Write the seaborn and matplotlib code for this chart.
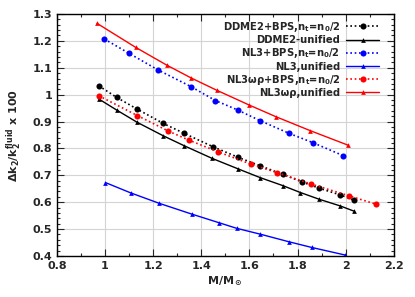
import matplotlib
matplotlib.use("Agg")
import matplotlib.pyplot as plt
import seaborn as sns
import pandas as pd

# DDME2+BPS, n_t = n_0/2
ddme2_bps_m = [0.974, 1.048, 1.134, 1.242, 1.329, 1.447, 1.553, 1.646, 1.738, 1.817, 1.890, 1.978, 2.034]
ddme2_bps_k = [1.033, 0.990, 0.946, 0.893, 0.856, 0.807, 0.767, 0.735, 0.704, 0.676, 0.652, 0.627, 0.608]

# DDME2 unified
ddme2_uni_m = [0.974, 1.048, 1.134, 1.242, 1.329, 1.445, 1.553, 1.646, 1.738, 1.812, 1.890, 1.978, 2.034]
ddme2_uni_k = [0.984, 0.943, 0.897, 0.847, 0.810, 0.763, 0.724, 0.691, 0.662, 0.636, 0.611, 0.586, 0.567]

# NL3+BPS, n_t = n_0/2
nl3_bps_m = [0.997, 1.099, 1.222, 1.357, 1.459, 1.551, 1.645, 1.765, 1.865, 1.990]
nl3_bps_k = [1.207, 1.154, 1.091, 1.030, 0.978, 0.943, 0.903, 0.856, 0.821, 0.773]

# NL3 unified
nl3_uni_m = [1.002, 1.106, 1.225, 1.360, 1.473, 1.547, 1.646, 1.764, 1.858, 1.996]
nl3_uni_k = [0.673, 0.635, 0.596, 0.556, 0.524, 0.503, 0.481, 0.453, 0.432, 0.404]

# NL3wr+BPS, n_t = n_0/2
nl3wr_bps_m = [0.974, 1.135, 1.262, 1.348, 1.468, 1.605, 1.715, 1.855, 2.013, 2.125]
nl3wr_bps_k = [0.996, 0.922, 0.865, 0.831, 0.788, 0.742, 0.710, 0.668, 0.624, 0.593]

# NL3wr unified
nl3wr_uni_m = [0.967, 1.127, 1.256, 1.358, 1.465, 1.600, 1.710, 1.853, 2.010]
nl3wr_uni_k = [1.265, 1.176, 1.110, 1.062, 1.016, 0.961, 0.918, 0.866, 0.812]

sns.set_style("ticks")
plt.rcParams["font.family"] = ["DejaVu Sans"]
plt.rcParams["font.weight"] = "bold"
plt.rcParams["mathtext.default"] = "bf"

fig = plt.figure(figsize=(4.15, 2.97), dpi=100)
ax = fig.add_axes([0.137, 0.138, 0.812, 0.815])

dotted = (0, (1, 1.6))
series = [
    ("DDME2+BPS,n$_t$=n$_0$/2", ddme2_bps_m, ddme2_bps_k, "black", dotted, "o", 4.4),
    ("DDME2-unified", ddme2_uni_m, ddme2_uni_k, "black", "-", "^", 3.4),
    ("NL3+BPS,n$_t$=n$_0$/2", nl3_bps_m, nl3_bps_k, "#0000ff", dotted, "o", 4.4),
    ("NL3,unified", nl3_uni_m, nl3_uni_k, "#0000ff", "-", "^", 3.4),
    ("NL3ωρ+BPS,n$_t$=n$_0$/2", nl3wr_bps_m, nl3wr_bps_k, "#ff0000", dotted, "o", 4.4),
    ("NL3ωρ,unified", nl3wr_uni_m, nl3wr_uni_k, "#ff0000", "-", "^", 3.4),
]

for label, m, k, col, ls, mk, ms in series:
    df = pd.DataFrame({"M": m, "k": k})
    sns.lineplot(data=df, x="M", y="k", ax=ax, color=col, linestyle=ls,
                 linewidth=1.2 if ls == dotted else 1.0, marker=mk, markersize=ms,
                 markeredgewidth=0, label=label, sort=False)

ax.set_xlim(0.8, 2.2)
ax.set_ylim(0.4, 1.3)
ax.set_xticks([0.8, 1.0, 1.2, 1.4, 1.6, 1.8, 2.0, 2.2])
ax.set_xticklabels(["0.8", "1", "1.2", "1.4", "1.6", "1.8", "2", "2.2"])
ax.set_yticks([0.4, 0.5, 0.6, 0.7, 0.8, 0.9, 1.0, 1.1, 1.2, 1.3])
ax.set_yticklabels(["0.4", "0.5", "0.6", "0.7", "0.8", "0.9", "1", "1.1", "1.2", "1.3"])
ax.set_xticks([0.9 + 0.2 * i for i in range(7)], minor=True)
ax.set_yticks([0.4 + 0.02 * i for i in range(46)], minor=True)
ax.tick_params(which="both", direction="in", top=True, right=True, width=0.8, labelsize=8)
ax.tick_params(which="major", length=5)
ax.tick_params(which="minor", length=2.5)
for lab in ax.get_xticklabels() + ax.get_yticklabels():
    lab.set_fontweight("bold")
for sp in ax.spines.values():
    sp.set_linewidth(1.0)
    sp.set_color("black")
ax.grid(True, which="major", color="#d4d4d4", linewidth=0.8)
ax.set_axisbelow(True)

ax.set_xlabel("M/M$_\\odot$", fontsize=8, fontweight="bold", labelpad=3)
ax.set_ylabel("Δk$_2$/k$_2^{fluid}$ x 100", fontsize=8, fontweight="bold", labelpad=6)

leg = ax.legend(loc="upper right", bbox_to_anchor=(0.975, 1.0), frameon=False,
                markerfirst=False, handlelength=3.3, labelspacing=0.12,
                handletextpad=0.6, borderaxespad=0.2,
                prop={"weight": "bold", "size": 7.2})

fig.savefig("out.png", dpi=100)
